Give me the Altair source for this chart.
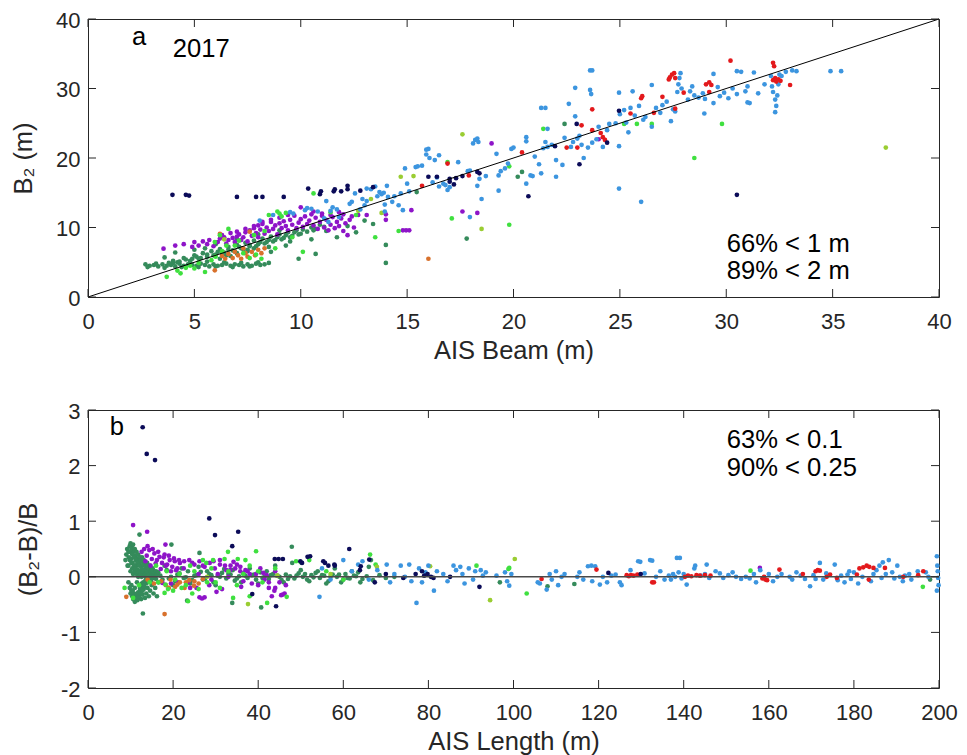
import altair as alt
import pandas as pd

# ---------------- data: panel a (AIS beam vs B2) ----------------
a_navy = [[3.97,14.7],[4.6,14.7],[4.75,14.6],[7.0,14.4],[7.9,14.4],[8.2,14.4],[9.2,14.4],[10.35,15.6],
          [10.9,14.8],[10.95,15.2],[11.55,15.2],[11.6,15.5],[11.9,15.2],[12.2,16.0],[12.2,15.5],[12.8,15.3],
          [13.4,15.8],[16.0,17.3],[16.4,17.3],[17.0,16.6],[17.2,16.2],[17.0,17.0],[17.3,17.1],[17.6,17.4],
          [18.3,18.0],[18.4,17.8],[20.7,14.5],[21.95,21.7],[22.97,24.9],[23.1,19.1],[24.4,22.2],[24.96,26.8],
          [30.5,14.7]]
a_blue = [[8.07,11.0],[8.7,11.8],[9.5,12.2],[9.65,12.0],[10.2,12.5],[10.3,12.8],[10.5,12.7],[10.8,12.3],
          [11.1,11.3],[11.2,13.8],[11.3,10.8],[11.4,12.4],[11.5,12.9],[11.7,12.6],[11.8,11.5],[12.3,13.4],
          [12.4,13.7],[12.55,14.9],[12.8,12.6],[12.9,14.1],[13.0,13.2],[13.1,15.6],[13.1,13.8],[13.3,15.5],
          [13.5,15.9],[13.6,14.5],[13.7,15.1],[13.8,14.8],[13.9,15.0],[13.95,12.3],[13.95,13.3],[14.05,16.0],
          [14.1,14.4],[14.3,13.7],[14.4,14.5],[14.6,13.2],[14.7,14.9],[14.8,12.5],[14.9,18.5],[15.0,16.3],
          [15.1,15.2],[15.4,18.7],[15.5,18.8],[15.7,18.9],[15.9,21.2],[15.9,20.5],[16.0,21.3],[16.05,20.0],
          [16.2,16.5],[16.3,19.7],[16.4,17.2],[16.5,20.4],[16.5,15.9],[16.7,16.3],[16.8,16.1],[16.9,15.4],
          [17.0,15.8],[17.4,19.4],[17.85,18.1],[17.95,18.2],[17.95,11.5],[18.1,22.1],[18.2,22.6],[18.3,22.8],
          [18.35,22.3],[18.3,16.0],[18.4,17.0],[18.5,14.1],[18.7,17.4],[19.2,20.6],[19.3,17.5],[19.4,18.1],
          [19.6,18.5],[19.74,19.2],[19.9,21.3],[20.0,21.5],[20.6,23.0],[20.6,22.4],[20.6,16.3],[20.8,17.5],
          [20.9,17.4],[21.2,19.1],[21.3,17.8],[21.3,27.2],[21.5,27.2],[21.4,21.4],[21.6,21.6],[21.6,24.2],
          [21.8,21.9],[21.5,22.3],[22.0,19.7],[22.0,17.3],[22.3,19.0],[22.6,27.8],[22.9,30.1],[22.7,21.6],
          [22.8,22.3],[22.9,26.0],[23.0,22.8],[23.1,23.2],[23.2,21.9],[23.5,21.5],[23.6,32.6],[23.7,32.6],
          [23.6,29.8],[23.65,29.2],[23.7,22.2],[23.9,22.7],[24.0,24.5],[24.4,24.0],[24.5,24.9],[24.8,25.0],
          [24.96,29.4],[24.96,21.7],[24.96,15.6],[25.0,26.3],[25.2,26.9],[25.3,25.1],[25.4,23.7],[25.5,27.2],
          [25.6,29.6],[25.7,26.1],[25.9,27.5],[26.0,13.7],[26.1,25.5],[26.2,25.9],[26.5,24.5],[26.5,30.5],
          [26.9,26.5],[27.0,27.6],[27.2,28.1],[27.4,25.3],[27.5,27.0],[27.6,26.7],[27.7,29.5],[27.75,30.6],
          [27.8,31.5],[27.85,32.2],[27.9,30.0],[28.2,28.4],[28.3,29.6],[28.4,30.3],[28.5,29.0],[28.7,28.7],
          [28.9,29.3],[28.97,26.4],[29.0,28.5],[29.4,32.1],[29.4,27.9],[29.7,28.9],[29.9,29.4],[30.1,28.6],
          [30.3,30.0],[30.5,32.5],[30.5,29.2],[30.7,32.4],[30.9,29.6],[31.0,30.3],[31.0,28.0],[31.1,27.9],
          [31.3,32.3],[31.5,29.3],[31.8,30.6],[32.1,31.8],[32.15,30.3],[32.2,29.5],[32.3,28.4],[32.3,26.6],
          [32.35,27.5],[32.4,29.0],[32.45,30.6],[32.5,32.0],[32.6,31.8],[32.8,32.4],[33.1,32.6],[33.3,32.5],
          [34.9,32.5],[35.4,32.5],[19.3,15.3],[21.0,20.2],[22.4,22.9],[23.3,20.0],[24.2,21.6],[26.7,27.2],
          [29.6,30.2]]
a_red = [[15.7,16.0],[16.9,19.2],[20.4,20.8],[23.2,24.7],[23.0,21.5],[23.7,27.0],[23.7,24.0],[24.1,23.6],
         [24.2,23.0],[24.3,22.6],[25.5,26.4],[26.0,28.6],[26.05,28.9],[26.6,26.5],[27.0,28.8],[27.35,31.6],
         [27.45,32.0],[27.55,32.2],[27.3,31.3],[27.6,31.5],[27.6,27.1],[28.0,29.4],[29.05,30.6],[29.2,30.9],
         [29.3,30.5],[29.2,29.5],[30.2,34.0],[32.2,33.7],[32.25,33.2],[32.2,31.2],[32.35,31.0],[32.45,31.3],
         [32.55,31.1],[32.3,31.5],[33.0,30.5],[17.9,17.5],[22.5,21.5]]
a_purple = [[3.55,6.95],[4.1,7.4],[4.9,7.2],[5.0,7.9],[5.4,8.0],[5.6,7.6],[5.9,7.3],[6.1,7.9],[6.2,8.4],
            [6.4,8.6],[6.5,7.7],[6.6,8.2],[6.8,8.5],[6.9,7.9],[7.0,8.7],[7.1,9.0],[7.2,8.2],[7.3,8.6],
            [7.4,9.3],[7.5,8.0],[7.6,9.6],[7.7,8.8],[7.8,9.9],[7.9,9.2],[8.0,10.3],[8.0,8.6],[8.1,9.7],
            [8.2,10.5],[8.3,9.1],[8.4,10.0],[8.5,9.5],[8.6,10.8],[8.7,9.8],[8.8,10.3],[8.9,9.0],[9.0,10.6],
            [9.1,9.9],[9.2,10.9],[9.3,10.2],[9.4,9.6],[9.5,11.1],[9.6,10.4],[9.7,11.7],[9.8,9.9],[9.9,10.7],
            [10.0,11.2],[10.0,12.9],[10.1,10.1],[10.2,11.6],[10.3,10.5],[10.4,11.0],[10.5,11.9],[10.6,10.3],
            [10.7,11.4],[10.8,9.8],[10.9,10.8],[11.0,11.7],[11.1,10.0],[11.2,11.1],[11.3,9.6],[11.4,10.4],
            [11.5,11.5],[11.6,9.9],[11.7,10.8],[11.8,10.2],[11.9,11.3],[12.0,9.5],[12.1,10.6],[12.2,8.9],
            [12.3,11.1],[12.5,10.0],[12.7,11.8],[13.1,11.8],[14.0,11.9],[14.0,11.1],[14.8,9.6],[14.95,9.6],
            [15.1,9.6],[15.2,12.5],[17.6,12.3],[18.3,12.1],[18.97,22.1],[24.0,22.7],
            [4.5,7.6],[5.2,7.4],[5.7,8.2],[6.3,8.9],[6.7,9.2],[7.0,9.4],[7.4,9.8],[7.8,10.2],[8.2,10.8],
            [8.6,11.1],[9.0,11.4],[9.4,11.8],[10.6,12.3],[11.0,12.0],[11.4,11.8],[11.8,12.2],[12.0,11.9],
            [12.4,11.6]]
a_seagreen = [[2.7,4.7],[2.9,4.5],[3.1,4.6],[3.3,4.4],[3.5,4.7],[3.7,4.5],[3.9,4.6],[4.1,4.4],[4.3,4.8],
              [4.5,4.5],[4.7,4.7],[4.9,4.6],[5.1,4.5],[5.3,4.8],[5.5,4.6],[5.7,4.4],[5.9,4.7],[6.1,4.5],
              [6.3,4.6],[6.5,4.8],[6.7,4.5],[6.9,4.7],[7.1,4.6],[7.3,4.4],[7.5,4.7],[7.7,4.5],[7.9,4.8],
              [8.1,4.6],[8.3,4.7],[8.5,4.9],[2.8,4.3],[3.2,4.8],[3.6,4.2],[4.0,4.9],[4.4,4.3],[4.8,5.0],
              [5.2,4.3],[5.6,5.1],[6.0,4.4],[6.4,5.0],[6.8,4.3],[7.2,4.9],[7.6,4.4],[8.0,5.0],
              [4.2,5.0],[4.5,5.6],[4.8,5.2],[5.0,6.0],[5.2,5.5],[5.4,6.3],[5.6,5.8],[5.8,6.6],[6.0,6.1],
              [6.2,6.9],[6.4,6.4],[6.6,7.2],[6.8,6.7],[7.0,7.5],[7.2,7.0],[7.4,7.8],[7.6,7.3],[7.8,8.1],
              [8.0,7.6],[8.2,8.4],[8.4,7.9],[8.6,8.7],[8.8,8.2],[9.0,9.0],[9.2,8.5],[9.4,9.3],[9.6,8.8],
              [9.8,9.6],[10.0,9.1],[5.5,7.0],[6.0,7.6],[6.5,6.0],[7.0,8.3],[7.5,6.6],[8.0,9.0],[8.5,7.2],
              [9.0,9.6],[9.5,8.0],[3.6,5.7],[4.1,6.4],[5.0,6.8],[9.9,5.5],[10.7,6.2],[10.6,9.6],[10.5,8.3],
              [11.2,9.5],[11.7,8.6],[12.2,10.2],[12.6,9.3],[13.0,11.0],[13.4,10.5],[14.0,7.5],[14.0,4.9],
              [15.45,15.1],[17.8,8.4],[20.2,17.3],[20.4,18.0],[22.4,24.9],[8.6,6.5],[9.3,7.4],
              [3.8,4.9],[4.0,5.2],[4.3,5.1],[4.6,5.4],[4.9,5.5],[5.1,5.8],[5.3,5.6],[5.6,6.1],[5.9,6.0],
              [6.1,6.5],[6.3,6.2],[6.6,6.8],[6.9,6.6],[7.1,7.2],[7.3,6.9],[7.6,7.5],[7.9,7.3],[8.1,7.9],
              [8.3,7.7],[8.5,8.2],[8.7,8.0],[8.9,8.6],[9.1,8.3],[9.3,8.9],[9.5,8.6],[9.7,9.3],[9.9,9.0],
              [10.1,9.7],[10.3,9.4],[10.5,10.0],[10.7,9.8],[10.9,10.4],[11.1,10.1],[6.2,5.5],[6.7,5.9],
              [7.0,6.3],[7.5,6.8],[7.8,7.0]]
a_lime = [[3.7,2.9],[4.2,3.8],[4.35,3.4],[4.6,4.2],[4.8,4.5],[5.0,4.1],[5.5,3.6],[5.2,4.9],[5.8,5.3],
          [6.0,5.8],[6.3,6.6],[6.6,9.8],[5.96,7.9],[6.2,8.9],[6.9,7.4],[7.3,6.3],[7.6,5.6],[7.9,6.1],
          [8.15,5.5],[8.5,11.8],[8.8,7.0],[8.9,12.3],[9.0,12.0],[9.1,11.6],[9.3,12.1],[9.6,8.6],[10.1,6.5],
          [10.6,14.9],[13.5,8.6],[14.6,9.5],[17.1,11.3],[16.9,19.4],[19.8,10.4],[19.8,18.8],[21.4,24.2],
          [25.2,24.9],[25.8,24.9],[26.5,24.9],[28.5,20.0],[29.8,24.9],[7.1,8.1],[7.8,8.9],[8.3,9.5],
          [6.5,7.4],[12.6,11.8],[11.4,12.2]]
a_orange = [[5.96,3.84],[6.3,5.9],[6.45,5.5],[6.6,6.2],[6.8,5.6],[7.05,6.0],[7.2,5.5],[7.4,6.3],[7.5,5.8],
            [7.7,6.5],[7.85,6.0],[8.0,6.8],[8.15,6.3],[8.3,7.0],[6.2,9.1],[7.6,9.4],[16.0,5.5],[6.9,6.5],
            [7.3,7.0]]
a_yellowgreen = [[13.3,14.1],[13.8,12.1],[14.7,17.3],[15.3,17.4],[17.6,23.4],[18.5,9.8],[37.5,21.5],
                 [12.7,12.4],[6.4,8.3]]

# ---------------- data: panel b (AIS length vs (B2-B)/B) ----------------
b_navy = [[12.85,2.69],[13.8,2.21],[15.75,2.1],[28.5,1.05],[29.85,0.75],[35.3,0.81],[33.9,0.55],[38.6,-0.31],
          [44.2,-0.53],[43.9,0.32],[44.8,0.32],[45.8,0.32],[49.9,0.28],[50.3,0.25],[51.6,0.36],[52.2,0.37],
          [55.3,0.28],[55.7,0.25],[56.5,0.2],[57.9,0.22],[58.0,0.2],[61.4,0.5],[63.9,0.12],[64.1,0.19],
          [66.1,0.31],[67.4,-0.1],[74.1,-0.02],[77.0,0.05],[78.5,0.1],[79.0,0.02],[80.6,0.0],[79.8,0.05],
          [81.2,-0.02],[85.1,0.0],[92.0,-0.18],[122.3,0.07],[129.9,0.05],[70.0,0.05]]
b_seagreen_x = [9.5,9.8,10.0,10.2,10.4,10.6,10.8,11.0,11.2,11.4,11.6,11.8,12.0,12.2,12.4,12.6,12.8,13.0,
                13.2,13.4,13.6,13.8,14.0,14.3,14.6,15.0,15.4,16.0]
b_seagreen_hi = [0.45,0.55,0.6,0.5,0.4,0.58,0.35,0.5,0.3,0.45,0.25,0.4,0.2,0.35,0.3,0.15,0.28,0.22,0.12,
                 0.25,0.18,0.1,0.2,0.15,0.08,0.12,0.05,0.1]
b_seagreen_mid = [0.2,0.3,0.1,0.25,0.15,0.05,0.2,0.1,0.15,0.05,0.1,0.0,0.08,0.02,0.05,0.0,0.06,0.03,0.02,
                  0.04,0.0,0.05,0.02,0.03,0.0,0.02,0.0,0.03]
b_seagreen_lo = [-0.1,-0.2,-0.3,-0.25,-0.35,-0.4,-0.3,-0.45,-0.38,-0.32,-0.42,-0.28,-0.35,-0.2,-0.3,-0.15,
                 -0.25,-0.1,-0.18,-0.08,-0.12,-0.05,-0.1,-0.04,-0.06,-0.03,-0.02,-0.04]
b_seagreen_band_x = [16.5,17.5,18.5,19.5,20.5,21.5,22.5,23.5,24.5,25.5,26.5,27.5,28.5,29.5,30.5,31.5,32.5,
                     33.5,34.5,35.5,36.5,37.5,38.5,39.5,40.5,41.5,42.5,43.5,44.5,45.5,46.5,47.5,48.5,49.5,
                     50.5,51.5,52.5,53.5,54.5,55.5,56.5,57.5,58.5,59.5,60.5,61.5,62.5,63.5,64.5,65.5,67,
                     68.5,70,72]
b_seagreen_band_y = [0.08,-0.05,0.12,0.0,-0.08,0.06,-0.02,0.1,-0.06,0.03,0.09,-0.04,0.05,-0.1,0.02,0.07,
                     -0.03,0.04,-0.07,0.01,0.06,-0.02,0.03,-0.05,0.08,0.0,-0.04,0.05,0.02,-0.06,0.04,0.01,
                     -0.03,0.06,0.0,-0.05,0.03,0.07,-0.02,0.02,-0.08,0.04,0.0,-0.1,0.05,-0.03,0.02,0.08,
                     -0.04,0.01,-0.06,0.03,-0.02,0.0]
b_seagreen_band2_x = [18,20,22,24,26,28,30,32,34,36,38,40,42,44,46,48,50,52,54,56,58,60,62,64,66]
b_seagreen_band2_y = [0.2,-0.15,0.15,-0.12,0.18,0.1,-0.15,0.14,0.12,-0.1,0.15,-0.12,0.1,0.2,-0.1,0.25,
                      0.12,-0.08,0.1,-0.12,0.15,-0.05,0.1,-0.1,0.18]
b_seagreen_other = [[12.1,0.76],[12.9,-0.66],[19.6,0.58],[26.2,0.43],[47.9,0.54],[40.7,-0.55],[33.9,-0.47],
                    [23.3,-0.43],[96.8,-0.1],[114.3,-0.13],[108.0,-0.17],[197.9,-0.05],[66.5,0.3],
                    [8.8,0.3],[9.0,0.4],[9.2,0.5],[9.3,0.2],[9.6,0.35],[9.9,0.45],[10.1,0.32],[10.3,0.55],
                    [10.5,0.25],[10.7,0.45],[10.9,0.15],[11.1,0.38],[11.3,0.2],[11.5,0.33],[11.7,0.12],
                    [11.9,0.3],[12.1,0.25],[12.3,0.1],[12.5,0.2],[12.7,0.35],[12.9,0.1],[13.1,0.3],[13.3,0.2],
                    [13.5,0.08],[13.7,0.15],[13.9,0.25],[14.2,0.1],[14.5,0.2],[14.8,0.05],[15.2,0.15],
                    [15.6,0.1],[16.2,0.05],[10.2,-0.15],[10.5,-0.25],[10.8,-0.35],[11.0,-0.2],[11.3,-0.4],
                    [11.6,-0.3],[11.9,-0.38],[12.2,-0.25],[12.5,-0.4],[12.8,-0.32],[13.1,-0.22],[13.4,-0.38],
                    [13.7,-0.3],[14.0,-0.2],[14.3,-0.35],[14.6,-0.25],[15.0,-0.15],[15.4,-0.3],[15.8,-0.2],
                    [16.2,-0.35],[16.6,-0.1],[11.5,-0.1],[12.6,-0.12],[13.6,-0.06],[14.8,-0.08],
                    [17.0,0.02],[19.0,-0.03],[21.0,0.04],[23.0,-0.01],[25.0,0.02],[27.0,-0.05],[29.0,0.03],
                    [31.0,0.0],[33.0,0.05],[35.0,-0.03],[37.0,0.02],[39.0,0.04],[41.0,-0.02],[43.0,0.03],
                    [45.0,0.0],[47.0,-0.04],[49.0,0.02],[51.0,0.05],[53.0,-0.01],[55.0,0.03],[57.0,0.0],
                    [59.0,0.04],[61.0,-0.02],[63.0,0.01]]
b_purple = [[10.6,0.93],[13.9,0.81],[18.2,0.58],[12.6,0.45],[13.2,0.5],[13.8,0.38],[14.4,0.48],[15.0,0.32],
            [15.6,0.42],[16.2,0.3],[16.8,0.36],[17.4,0.25],[18.0,0.4],[18.6,0.22],[19.2,0.3],[19.8,0.18],
            [20.4,0.28],[21.0,0.15],[21.6,0.25],[13.5,0.28],[14.7,0.2],[15.9,0.24],[17.1,0.14],[18.3,0.2],
            [19.5,0.1],[20.7,0.12],[22.5,0.15],[23.5,-0.1],[24.5,0.25],[25.5,-0.2],[26.2,-0.37],[27.4,-0.37],
            [27.0,0.2],[28.5,-0.15],[29.5,0.28],[30.5,0.05],[31.5,-0.22],[32.5,0.12],[33.5,0.2],[34.2,0.27],
            [35.0,0.22],[35.8,0.18],[36.5,-0.08],[37.5,0.1],[38.5,-0.12],[39.5,0.05],[40.5,0.15],[41.5,-0.05],
            [42.5,-0.1],[43.2,-0.35],[44.0,0.1],[45.4,-0.33],[45.8,-0.32],[46.5,-0.15],[24.0,-0.2],[26.0,0.05],
            [29.0,-0.05],[31.0,0.3],[33.0,0.0],[36.0,-0.18],[38.0,0.05],[40.0,-0.15],[42.0,0.03],[44.0,-0.2],
            [157.9,0.16],[14.0,0.55],[15.2,0.5],[16.5,0.45],[17.8,0.35],[19.0,0.38],[20.2,0.33],[21.4,0.3],
            [22.6,0.28],[23.8,0.3],[25.0,0.22],[26.2,0.28],[27.4,0.18],[28.6,0.25],[29.8,0.15],[31.0,0.22],
            [32.2,0.2],[33.4,0.12],[34.6,0.15],[35.8,0.1],[37.0,0.12],[17.5,-0.11],[19.5,-0.12],[21.2,-0.1],
            [26.8,-0.39],[30.2,-0.27],[41.2,0.07],[42.5,-0.2],[43.8,-0.25],[45.0,-0.1],[46.2,-0.3]]
b_lime = [[8.6,-0.2],[10.6,-0.38],[18.2,-0.14],[18.8,-0.22],[18.0,-0.29],[23.5,-0.44],[32.9,0.45],[27.0,0.3],
          [27.8,0.25],[29.4,0.3],[32.1,0.32],[35.2,0.32],[38.0,0.2],[39.5,0.46],[34.1,-0.38],[38.0,-0.35],
          [46.7,-0.36],[42.1,-0.47],[48.9,0.28],[50.0,0.26],[66.3,0.4],[67.6,0.22],[91.3,0.2],[103.1,-0.3],
          [98.8,0.14],[99.0,0.16],[155.7,0.11],[196.2,-0.18],[20.5,-0.05],[22.0,-0.2],[14.5,-0.1],[12.0,-0.15],
          [16.0,0.2],[25.0,0.1],[30.0,-0.1],[44.0,0.15],[52.0,0.3],[56.0,0.1],[60.0,-0.05],[24.5,-0.3],
          [16.5,-0.1],[18.5,0.1],[20.0,-0.25],[21.5,0.05],[23.0,-0.15],[24.0,0.2],[26.0,-0.22],[28.0,-0.1],
          [29.0,0.15],[31.0,-0.2],[33.0,0.1],[35.0,-0.15],[36.5,0.05],[40.0,0.1],[41.0,-0.1],[37.0,0.3]]
b_orange = [[9.0,-0.36],[18.0,-0.67],[17.2,-0.08],[18.3,-0.15],[19.4,-0.05],[20.5,-0.18],[21.6,-0.1],
            [22.7,-0.2],[23.8,-0.06],[24.9,-0.16],[26.0,-0.12],[27.0,-0.04],[19.0,-0.2],[21.0,-0.14],
            [23.0,-0.1],[25.0,-0.08],[14.0,-0.05],[15.5,-0.12]]
b_yellowgreen = [[100.3,0.32],[94.5,-0.42],[80.4,0.19],[67.9,0.18],[37.6,-0.49],[57.0,0.05],[44.5,0.02],
                 [28.0,0.0]]
b_red = [[106.6,-0.04],[119.5,0.13],[126.6,0.03],[127.1,0.01],[127.6,0.03],[128.2,0.02],[129.1,0.04],
         [132.6,-0.1],[133.0,-0.1],[140.3,0.0],[141.0,0.02],[141.8,0.01],[143.0,0.03],[143.8,0.02],
         [145.0,0.03],[146.3,0.02],[158.5,-0.03],[158.9,0.0],[159.2,-0.05],[159.6,-0.06],[162.5,0.13],
         [171.0,0.1],[171.5,0.12],[172.0,0.11],[173.6,0.0],[174.4,0.04],[180.7,0.04],[181.3,0.15],
         [182.2,0.17],[183.0,0.2],[183.6,0.18],[184.6,0.16],[183.5,-0.05],[187.3,0.16],[191.6,0.0],
         [195.1,0.03],[196.3,0.1],[168.0,0.05],[176.0,-0.02]]
b_blue = [[54.4,-0.36],[55.0,0.15],[57.0,-0.05],[60.0,0.3],[62.0,0.1],[63.5,0.22],[64.5,0.28],[66.0,-0.05],
          [68.0,0.12],[70.2,0.22],[71.0,-0.1],[72.0,0.05],[73.5,0.2],[74.5,0.0],[75.5,0.22],[76.0,-0.08],
          [77.2,-0.47],[77.8,0.15],[78.5,-0.1],[79.3,0.08],[80.0,0.2],[81.3,-0.25],[82.0,0.1],[83.5,0.05],
          [84.5,-0.08],[85.9,0.2],[86.5,0.12],[87.5,0.18],[88.0,0.05],[88.5,-0.12],[89.5,0.15],[90.5,-0.05],
          [91.0,0.1],[92.3,0.12],[92.8,0.02],[93.5,0.08],[96.0,0.02],[98.0,0.08],[98.5,-0.08],[99.0,-0.16],
          [99.5,0.05],[105.7,-0.1],[106.2,-0.12],[107.8,-0.23],[108.5,0.05],[109.0,-0.05],[110.0,0.1],
          [110.5,-0.15],[111.3,0.0],[112.0,0.05],[115.0,0.0],[115.5,0.08],[116.4,-0.05],[117.5,0.19],
          [118.3,0.2],[119.2,0.19],[118.5,-0.08],[120.3,-0.14],[121.0,0.0],[122.0,-0.1],[124.0,0.04],
          [125.0,-0.1],[125.4,-0.15],[129.3,0.28],[129.8,0.27],[132.1,0.3],[132.6,0.29],[133.5,0.0],
          [134.5,0.1],[136.5,0.02],[137.0,-0.05],[137.5,0.05],[138.0,0.0],[138.4,0.34],[139.1,0.34],
          [138.8,0.08],[139.5,-0.03],[140.0,0.05],[140.7,-0.14],[142.7,0.2],[142.5,0.15],[145.4,0.22],
          [145.0,0.05],[146.0,-0.02],[148.5,0.06],[149.3,-0.02],[151.5,0.08],[152.3,0.0],[153.5,-0.04],
          [154.6,0.0],[156.5,0.05],[157.0,-0.1],[158.0,0.12],[160.0,0.05],[161.0,-0.08],[163.0,0.05],
          [164.9,0.0],[165.5,-0.05],[166.5,0.08],[167.5,0.02],[168.5,-0.04],[169.7,-0.17],[170.5,0.03],
          [172.0,0.25],[172.8,-0.05],[173.5,0.06],[175.5,0.22],[176.2,-0.06],[177.0,0.02],[177.8,-0.1],
          [178.5,0.04],[179.3,-0.04],[180.0,0.08],[181.0,-0.12],[182.0,0.0],[184.6,0.05],[185.3,0.12],
          [186.0,0.2],[186.8,0.26],[187.5,0.05],[188.2,0.3],[189.0,0.08],[189.5,-0.03],[190.2,0.2],
          [190.8,0.0],[192.0,0.02],[193.0,0.05],[193.5,-0.05],[196.9,0.08],[197.5,0.0],[199.5,0.37],
          [199.6,0.2],[199.7,0.1],[199.8,-0.02],[199.9,-0.15],[199.5,-0.25],[150.5,0.03],[155.5,-0.03],
          [162.0,0.0],[171.0,-0.04],[178.9,0.1],[184.0,-0.08],[186.5,-0.02],[191.5,-0.08],[195.0,0.1],
          [130.8,0.06],[135.5,-0.05],[127.5,0.12],[123.0,0.02],[144.0,0.02],[147.5,0.1]]

# reference lines and ticks
a_line_x = [0, 40]
a_line_y = [0, 40]
b_line_x = [0, 200]
b_line_y = [0, 0]
a_xticks = [0, 5, 10, 15, 20, 25, 30, 35, 40]
a_yticks = [0, 10, 20, 30, 40]
b_xticks = [0, 20, 40, 60, 80, 100, 120, 140, 160, 180, 200]
b_yticks = [-2, -1, 0, 1, 2, 3]

a_notes = [["a", 2.07, 36.3], ["2017", 3.98, 34.5], ["66% < 1 m", 30.02, 6.47], ["89% < 2 m", 30.02, 2.54]]
b_notes = [["b", 5.1, 2.55], ["63% < 0.1", 150.1, 2.316], ["90% < 0.25", 150.1, 1.818]]

GROUP_ORDER = ["seagreen", "purple", "orange", "lime", "yellowgreen", "blue", "red", "navy"]
GROUP_COLORS = ["#358b5b", "#8e14c8", "#d8712c", "#3fe03f", "#9acd32", "#3c95df", "#e3191c", "#0b0b58"]

FONT = "Liberation Sans"
AX = "#262626"
W, H = 851, 278
TL = 8


def pairs(lst):
    return [{"x": p[0], "y": p[1]} for p in lst]


def frame(groups):
    rows = []
    for g in GROUP_ORDER:
        for r in groups.get(g, []):
            rows.append({"x": r["x"], "y": r["y"], "g": g})
    return pd.DataFrame(rows)


b_sg = (pairs(b_seagreen_other)
        + [{"x": x, "y": y} for x, y in zip(b_seagreen_x, b_seagreen_hi)]
        + [{"x": x, "y": y} for x, y in zip(b_seagreen_x, b_seagreen_mid)]
        + [{"x": x, "y": y} for x, y in zip(b_seagreen_x, b_seagreen_lo)]
        + [{"x": x, "y": y} for x, y in zip(b_seagreen_band_x, b_seagreen_band_y)]
        + [{"x": x, "y": y} for x, y in zip(b_seagreen_band2_x, b_seagreen_band2_y)])

df_a = frame({"navy": pairs(a_navy), "blue": pairs(a_blue), "red": pairs(a_red), "purple": pairs(a_purple),
              "seagreen": pairs(a_seagreen), "lime": pairs(a_lime), "orange": pairs(a_orange),
              "yellowgreen": pairs(a_yellowgreen)})
df_b = frame({"navy": pairs(b_navy), "blue": pairs(b_blue), "red": pairs(b_red), "purple": pairs(b_purple),
              "seagreen": b_sg, "lime": pairs(b_lime), "orange": pairs(b_orange),
              "yellowgreen": pairs(b_yellowgreen)})


def panel(df, xdom, ydom, xt, yt, xtitle, ytitle, lx, ly, lcolor, lwidth, notes):
    X = alt.X("x:Q", scale=alt.Scale(domain=xdom, nice=False, zero=False),
              axis=alt.Axis(values=xt, title=xtitle, labelExpr="toString(datum.value)",
                            labelPadding=14, titlePadding=6))
    Y = alt.Y("y:Q", scale=alt.Scale(domain=ydom, nice=False, zero=False),
              axis=alt.Axis(values=yt, title=ytitle, labelExpr="toString(datum.value)",
                            labelPadding=8, titlePadding=19, labelBaseline="alphabetic",
                            labelOffset=8))
    pts = alt.Chart(df).mark_circle(size=22, opacity=1).encode(
        x=X, y=Y,
        color=alt.Color("g:N", scale=alt.Scale(domain=GROUP_ORDER, range=GROUP_COLORS), legend=None))
    line = alt.Chart(pd.DataFrame({"x": lx, "y": ly})).mark_line(color=lcolor, strokeWidth=lwidth).encode(x=X, y=Y)
    xtd = pd.DataFrame({"x": xt})
    ytd = pd.DataFrame({"y": yt})
    tb = alt.Chart(xtd).mark_rule(color=AX, strokeWidth=1).encode(x=X, y=alt.value(H), y2=alt.value(H - TL))
    tt = alt.Chart(xtd).mark_rule(color=AX, strokeWidth=1).encode(x=X, y=alt.value(0), y2=alt.value(TL))
    tl = alt.Chart(ytd).mark_rule(color=AX, strokeWidth=1).encode(y=Y, x=alt.value(0), x2=alt.value(TL))
    tr = alt.Chart(ytd).mark_rule(color=AX, strokeWidth=1).encode(y=Y, x=alt.value(W), x2=alt.value(W - TL))
    nd = pd.DataFrame([{"t": n[0], "x": n[1], "y": n[2]} for n in notes])
    txt = alt.Chart(nd).mark_text(align="left", baseline="alphabetic", fontSize=25.6, font=FONT,
                                  color="black").encode(x=X, y=Y, text="t:N")
    return alt.layer(pts, line, tb, tt, tl, tr, txt).properties(width=W, height=H)


pa = panel(df_a, [0, 40], [0, 40], a_xticks, a_yticks, "AIS Beam (m)", "B\u2082 (m)",
           a_line_x, a_line_y, "black", 1, a_notes)
pb = panel(df_b, [0, 200], [-2, 3], b_xticks, b_yticks, "AIS Length (m)", "(B\u2082-B)/B",
           b_line_x, b_line_y, "#4a4a4a", 1.5, b_notes)

chart = alt.vconcat(pa, pb, spacing=113, bounds="flush").properties(
    padding={"left": 3, "top": 0, "right": 0, "bottom": 0}
).configure_view(stroke=AX, strokeWidth=1).configure_axis(
    grid=False, ticks=False, domain=False, labelFont=FONT, labelFontSize=22, labelColor=AX,
    titleFont=FONT, titleFontSize=25.5, titleFontWeight="normal", titleColor=AX, labelFlush=False,
    labelOverlap=False
)

chart.save("out.html", embed_options={"renderer": "svg", "actions": False})
